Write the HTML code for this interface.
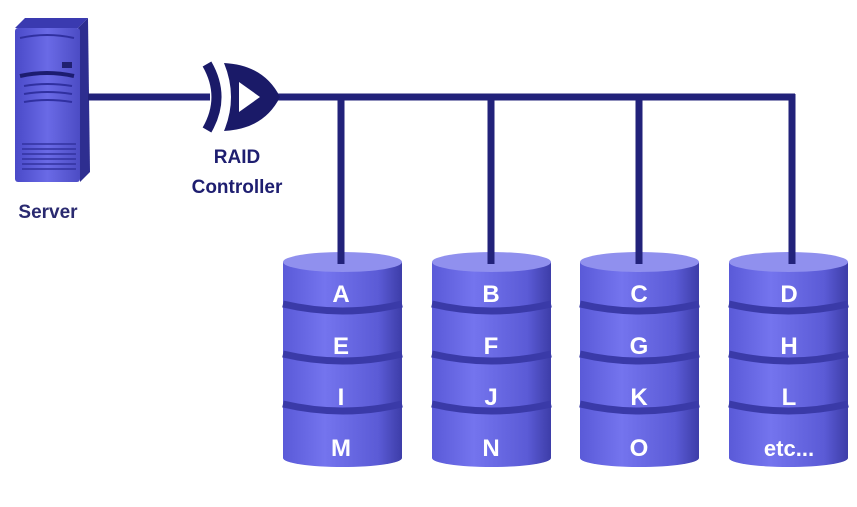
<!DOCTYPE html>
<html><head><style>
html,body{margin:0;padding:0;background:#fff;}
svg{display:block}
text{font-family:"Liberation Sans",sans-serif;}
</style></head><body>
<svg width="857" height="507" viewBox="0 0 857 507" xmlns="http://www.w3.org/2000/svg">
<defs>
<linearGradient id="body" x1="0" x2="1" y1="0" y2="0">
<stop offset="0" stop-color="#5a5ad8"/><stop offset="0.35" stop-color="#7474ee"/><stop offset="0.8" stop-color="#5b5bd6"/><stop offset="1" stop-color="#3d3da8"/>
</linearGradient>
<linearGradient id="srv" x1="0" x2="1" y1="0" y2="0">
<stop offset="0" stop-color="#4a4ac8"/><stop offset="0.5" stop-color="#6a6ae6"/><stop offset="1" stop-color="#4c4cc4"/>
</linearGradient>
<g id="disk">
<rect x="0" y="10" width="119" height="196" fill="url(#body)"/>
<ellipse cx="59.5" cy="206" rx="59.5" ry="9" fill="url(#body)"/>
<ellipse cx="59.5" cy="10" rx="59.5" ry="10" fill="#9090ee"/>
<path d="M0 52 Q59.5 66 119 52" stroke="#3a3aa8" stroke-width="7" fill="none"/>
<path d="M0 102 Q59.5 116 119 102" stroke="#3a3aa8" stroke-width="7" fill="none"/>
<path d="M0 152 Q59.5 166 119 152" stroke="#3a3aa8" stroke-width="7" fill="none"/>
</g>
</defs>
<polygon points="15,28 25,18 88,18 78,28" fill="#3a3ab0"/>
<polygon points="78,28 88,18 90,172 80,182" fill="#2e2e90"/>
<rect x="15" y="28" width="65" height="154" rx="3" fill="url(#srv)"/>
<path d="M20 38 Q47 32 74 38" stroke="#3030a0" stroke-width="2" fill="none"/>
<rect x="62" y="62" width="10" height="6" fill="#202070"/>
<path d="M20 76 Q47 70 74 76" stroke="#1c1c70" stroke-width="4" fill="none"/>
<path d="M24 86 Q47 82 72 86" stroke="#3030a0" stroke-width="2" fill="none"/>
<path d="M24 94 Q47 90 72 94" stroke="#3030a0" stroke-width="2" fill="none"/>
<path d="M24 102 Q47 98 72 102" stroke="#3030a0" stroke-width="2" fill="none"/>
<g stroke="#3232a0" stroke-width="1.5">
<line x1="22" y1="144" x2="76" y2="144"/><line x1="22" y1="149" x2="76" y2="149"/><line x1="22" y1="154" x2="76" y2="154"/><line x1="22" y1="159" x2="76" y2="159"/><line x1="22" y1="164" x2="76" y2="164"/><line x1="22" y1="169" x2="76" y2="169"/>
</g>
<text x="48" y="218" font-size="19" font-weight="bold" fill="#2a2a70" text-anchor="middle">Server</text>
<g stroke="#22227a" stroke-width="7" fill="none">
<line x1="88" y1="97" x2="210" y2="97"/>
<line x1="275" y1="97" x2="795" y2="97"/>
<line x1="341" y1="97" x2="341" y2="258"/>
<line x1="491" y1="97" x2="491" y2="258"/>
<line x1="639" y1="97" x2="639" y2="258"/>
<line x1="792" y1="94" x2="792" y2="258"/>
</g>
<path d="M207 64 Q226 97 207 130" stroke="#1a1a68" stroke-width="10" fill="none"/>
<path d="M224 63 Q264 65 280 97 Q264 129 224 131 Q238 97 224 63 Z" fill="#1a1a68"/>
<path d="M239 82 L260 97 L239 112 Z" fill="#fff"/>
<text x="237" y="163" font-size="19" font-weight="bold" fill="#1e1e70" text-anchor="middle">RAID</text>
<text x="237" y="193" font-size="19" font-weight="bold" fill="#1e1e70" text-anchor="middle">Controller</text>
<use href="#disk" x="283" y="252"/>
<use href="#disk" x="432" y="252"/>
<use href="#disk" x="580" y="252"/>
<use href="#disk" x="729" y="252"/>
<line x1="341" y1="240" x2="341" y2="264" stroke="#22227a" stroke-width="7"/>
<line x1="491" y1="240" x2="491" y2="264" stroke="#22227a" stroke-width="7"/>
<line x1="639" y1="240" x2="639" y2="264" stroke="#22227a" stroke-width="7"/>
<line x1="792" y1="240" x2="792" y2="264" stroke="#22227a" stroke-width="7"/>
<g fill="#fff" font-size="24" font-weight="bold" text-anchor="middle">
<text x="341" y="302">A</text><text x="341" y="354">E</text><text x="341" y="405">I</text><text x="341" y="456">M</text>
<text x="491" y="302">B</text><text x="491" y="354">F</text><text x="491" y="405">J</text><text x="491" y="456">N</text>
<text x="639" y="302">C</text><text x="639" y="354">G</text><text x="639" y="405">K</text><text x="639" y="456">O</text>
<text x="789" y="302">D</text><text x="789" y="354">H</text><text x="789" y="405">L</text><text x="789" y="456" font-size="22">etc...</text>
</g>
</svg>
</body></html>
